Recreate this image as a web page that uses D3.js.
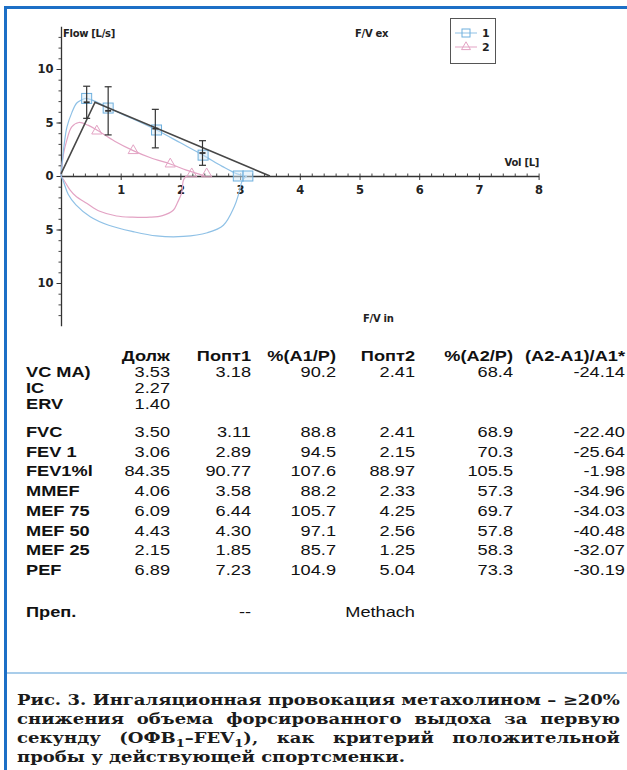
<!DOCTYPE html>
<html>
<head>
<meta charset="utf-8">
<script src="https://cdn.jsdelivr.net/npm/d3@7"></script>
<style>
  html, body { margin: 0; padding: 0; background: #fff; }
  svg { display: block; }
</style>
</head>
<body>
<div id="chart"></div>
<script>
// predicted flow-volume line and predicted values with error bars
const predVol = [0, 0.57, 3.5];
const predFlow = [0.2, 6.9, 0];
const barVol = [0.43, 0.79, 1.58, 2.37];
const barMean = [6.89, 6.09, 4.43, 2.15];
const barHalf = [1.5, 2.25, 1.8, 1.15];

// attempt 1 (blue), expiration and inspiration
const vol1Ex = [0, 0.05, 0.1, 0.18, 0.26, 0.34, 0.42, 0.6, 0.8, 1.2, 1.6, 2.0, 2.38, 2.7, 2.95, 3.11];
const flow1Ex = [0, 2.8, 4.6, 5.9, 6.8, 7.1, 7.25, 6.9, 6.35, 5.35, 4.3, 3.1, 1.95, 0.9, 0.2, 0];
const vol1In = [3.11, 3.04, 2.98, 2.9, 2.72, 2.45, 2.05, 1.6, 1.21, 0.8, 0.49, 0.25, 0.12, 0.04, 0];
const flow1In = [0, -0.4, -1.6, -2.9, -4.6, -5.3, -5.65, -5.6, -5.2, -4.6, -3.8, -2.7, -1.7, -0.5, 0];
const mark1Vol = [0.43, 0.79, 1.6, 2.38, 2.97, 3.13];
const mark1Flow = [7.25, 6.35, 4.3, 1.95, 0, 0];

// attempt 2 (pink)
const vol2Ex = [0, 0.04, 0.1, 0.18, 0.3, 0.45, 0.6, 0.9, 1.21, 1.5, 1.83, 2.1, 2.3, 2.41];
const flow2Ex = [0, 2.0, 3.4, 4.6, 5.0, 4.75, 4.3, 3.25, 2.37, 1.7, 1.12, 0.55, 0.2, 0];
const vol2In = [2.1, 2.05, 2.02, 1.95, 1.88, 1.7, 1.49, 1.2, 0.93, 0.65, 0.43, 0.25, 0.15, 0.05, 0];
const flow2In = [0, -0.4, -1.6, -2.5, -3.2, -3.7, -3.85, -3.85, -3.74, -3.3, -2.55, -1.9, -1.3, -0.4, 0];
const mark2Vol = [0.6, 1.21, 1.83, 2.19, 2.44];
const mark2Flow = [4.2, 2.37, 1.12, 0.2, 0.2];

const xTicks = [1, 2, 3, 4, 5, 6, 7, 8];
const yTicks = [-10, -5, 0, 5, 10];
const legendLabels = ["1", "2"];

// table
const colHeads = ["Долж", "Попт1", "%(A1/P)", "Попт2", "%(A2/P)", "(A2-A1)/A1*"];
const rowLabels = ["VC MA)", "IC", "ERV", "FVC", "FEV 1", "FEV1%l", "MMEF", "MEF 75", "MEF 50", "MEF 25", "PEF"];
const dolzh = ["3.53", "2.27", "1.40", "3.50", "3.06", "84.35", "4.06", "6.09", "4.43", "2.15", "6.89"];
const popt1 = ["3.18", "", "", "3.11", "2.89", "90.77", "3.58", "6.44", "4.30", "1.85", "7.23"];
const pctA1 = ["90.2", "", "", "88.8", "94.5", "107.6", "88.2", "105.7", "97.1", "85.7", "104.9"];
const popt2 = ["2.41", "", "", "2.41", "2.15", "88.97", "2.33", "4.25", "2.56", "1.25", "5.04"];
const pctA2 = ["68.4", "", "", "68.9", "70.3", "105.5", "57.3", "69.7", "57.8", "58.3", "73.3"];
const diffA = ["-24.14", "", "", "-22.40", "-25.64", "-1.98", "-34.96", "-34.03", "-40.48", "-32.07", "-30.19"];
const prepRow = ["Преп.", "--", "Methach"];

const captionLines = [
  "Рис. 3. Ингаляционная провокация метахолином – ≥20%",
  "снижения объема форсированного выдоха за первую",
  "секунду (ОФВ_1–FEV_1), как критерий положительной",
  "пробы у действующей спортсменки."
];

const W = 627, H = 770;
const blue = "#8fc1e6", blueMark = "#6fb0de", pink = "#e3a3c4", dark = "#474747";

const svg = d3.select("#chart").append("svg")
  .attr("width", W).attr("height", H);

// frame
svg.append("rect")
  .attr("x", 5.5).attr("y", 7.5)
  .attr("width", 640).attr("height", 790)
  .attr("fill", "none").attr("stroke", "#1c6fc6").attr("stroke-width", 3);

const x = d3.scaleLinear().domain([0, 8]).range([61, 538.6]);
const y = d3.scaleLinear().domain([-14, 14]).range([325.8, 26.2]);

const g = svg.append("g");
const axisFont = "DejaVu Sans, sans-serif";

// x axis: minor ticks up, major ticks down
g.append("g")
  .attr("transform", `translate(0,${y(0)})`)
  .call(d3.axisTop(x).tickValues(d3.range(0, 8.01, 0.2)).tickSize(2.5).tickSizeOuter(0).tickFormat(""))
  .call(a => a.select(".domain").attr("stroke", "#333").attr("stroke-width", 1.3))
  .call(a => a.selectAll(".tick line").attr("stroke", "#444"));
g.append("g")
  .attr("transform", `translate(0,${y(0)})`)
  .call(d3.axisBottom(x).tickValues(xTicks).tickSize(4).tickSizeOuter(0).tickPadding(6))
  .call(a => a.select(".domain").remove())
  .call(a => a.selectAll(".tick line").attr("stroke", "#333"))
  .call(a => a.selectAll("text").attr("font-family", axisFont).attr("font-weight", "bold")
    .attr("font-size", 11.5).attr("fill", "#222"));

// y axis
g.append("g")
  .attr("transform", `translate(${x(0)},0)`)
  .call(d3.axisLeft(y).tickValues(d3.range(-13, 14, 1)).tickSize(2.5).tickSizeOuter(0).tickFormat(""))
  .call(a => a.select(".domain").attr("stroke", "#333").attr("stroke-width", 1.3))
  .call(a => a.selectAll(".tick line").attr("stroke", "#444"));
g.append("g")
  .attr("transform", `translate(${x(0)},0)`)
  .call(d3.axisLeft(y).tickValues(yTicks).tickSize(4.5).tickSizeOuter(0).tickPadding(3)
    .tickFormat(d => Math.abs(d)))
  .call(a => a.select(".domain").remove())
  .call(a => a.selectAll(".tick line").attr("stroke", "#333"))
  .call(a => a.selectAll("text").attr("font-family", axisFont).attr("font-weight", "bold")
    .attr("font-size", 11.5).attr("fill", "#222"));

// axis titles
const titles = [
  { t: "Flow [L/s]", x: 63, y: 37, a: "start" },
  { t: "F/V ex", x: 355, y: 37, a: "start" },
  { t: "Vol [L]", x: 539, y: 166, a: "end" },
  { t: "F/V in", x: 363, y: 322, a: "start" }
];
g.selectAll("text.title").data(titles).join("text")
  .attr("class", "title")
  .attr("x", d => d.x).attr("y", d => d.y)
  .attr("text-anchor", d => d.a)
  .attr("font-family", axisFont).attr("font-weight", "bold")
  .attr("font-size", 10).attr("letter-spacing", -0.3).attr("fill", "#222")
  .text(d => d.t);

const pts = (vs, fs) => vs.map((v, i) => [v, fs[i]]);
const smooth = d3.line().x(d => x(d[0])).y(d => y(d[1])).curve(d3.curveCatmullRom.alpha(0.5));
const straight = d3.line().x(d => x(d[0])).y(d => y(d[1]));

// curves
[[pts(vol2Ex, flow2Ex), pink], [pts(vol2In, flow2In), pink],
 [pts(vol1Ex, flow1Ex), blue], [pts(vol1In, flow1In), blue]].forEach(([d, c]) => {
  g.append("path").attr("d", smooth(d)).attr("fill", "none")
    .attr("stroke", c).attr("stroke-width", 1.2);
});

// markers
const tri = d3.symbol().type(d3.symbolTriangle).size(45);
g.selectAll("path.m2").data(pts(mark2Vol, mark2Flow)).join("path")
  .attr("class", "m2")
  .attr("d", tri)
  .attr("transform", d => `translate(${x(d[0])},${y(d[1])})`)
  .attr("fill", "none").attr("stroke", pink).attr("stroke-width", 1);
g.selectAll("rect.m1").data(pts(mark1Vol, mark1Flow)).join("rect")
  .attr("class", "m1")
  .attr("x", d => x(d[0]) - 5).attr("y", d => y(d[1]) - 5)
  .attr("width", 10).attr("height", 10)
  .attr("fill", "#d5eaf8").attr("fill-opacity", 0.5)
  .attr("stroke", blueMark).attr("stroke-width", 1);

// predicted line
g.append("path").attr("d", straight(pts(predVol, predFlow)))
  .attr("fill", "none").attr("stroke", dark).attr("stroke-width", 1.6);

// error bars
const bars = barVol.map((v, i) => ({ v, m: barMean[i], h: barHalf[i] }));
const eb = g.selectAll("g.eb").data(bars).join("g").attr("class", "eb")
  .attr("stroke", "#333").attr("stroke-width", 1.2);
eb.append("line")
  .attr("x1", d => x(d.v)).attr("x2", d => x(d.v))
  .attr("y1", d => y(d.m + d.h)).attr("y2", d => y(d.m - d.h));
[1, -1].forEach(s => {
  eb.append("line")
    .attr("x1", d => x(d.v) - 3.5).attr("x2", d => x(d.v) + 3.5)
    .attr("y1", d => y(d.m + s * d.h)).attr("y2", d => y(d.m + s * d.h));
});
eb.append("line")
  .attr("x1", d => x(d.v) - 3).attr("x2", d => x(d.v) + 3)
  .attr("y1", d => y(d.m)).attr("y2", d => y(d.m)).attr("stroke-width", 1.8);

// legend
const lg = svg.append("g").attr("transform", "translate(450,18)");
lg.append("rect").attr("x", 0.5).attr("y", 0.5).attr("width", 45).attr("height", 45)
  .attr("fill", "#fff").attr("stroke", "#555").attr("stroke-width", 1);
legendLabels.forEach((lab, i) => {
  const yy = 15 + i * 14;
  const c = i === 0 ? blue : pink;
  lg.append("line").attr("x1", 5).attr("x2", 27).attr("y1", yy).attr("y2", yy)
    .attr("stroke", c).attr("stroke-width", 1);
  if (i === 0) {
    lg.append("rect").attr("x", 12).attr("y", yy - 4).attr("width", 8).attr("height", 8)
      .attr("fill", "none").attr("stroke", blueMark);
  } else {
    lg.append("path").attr("d", tri.size(35)()).attr("transform", `translate(16,${yy})`)
      .attr("fill", "none").attr("stroke", pink);
  }
  lg.append("text").attr("x", 32).attr("y", yy + 4).text(lab)
    .attr("font-family", axisFont).attr("font-weight", "bold").attr("font-size", 11).attr("fill", "#222");
});

// table
const tFont = "Liberation Sans, Arial, sans-serif";
const sxT = 1.3;
const colRight = [170, 251, 336, 415, 513, 625];
const cols = [dolzh, popt1, pctA1, popt2, pctA2, diffA];
const headY = 361;
const rowY = i => i < 3 ? 377 + i * 16 : 437 + (i - 3) * 19.7;
const tt = svg.append("g").attr("font-family", tFont).attr("font-size", 14).attr("fill", "#111");

function put(txt, xx, yy, anchor, bold) {
  tt.append("text")
    .attr("transform", `translate(${xx},${yy}) scale(${sxT},1)`)
    .attr("text-anchor", anchor)
    .attr("font-weight", bold ? "bold" : "normal")
    .text(txt);
}
colHeads.forEach((h, j) => put(h, colRight[j], headY, "end", true));
rowLabels.forEach((r, i) => {
  put(r, 26, rowY(i), "start", true);
  cols.forEach((c, j) => { if (c[i]) put(c[i], colRight[j], rowY(i), "end", false); });
});
const prepY = 617;
put(prepRow[0], 26, prepY, "start", true);
put(prepRow[1], colRight[1], prepY, "end", false);
put(prepRow[2], colRight[3], prepY, "end", false);

// caption separator
svg.append("line").attr("x1", 7).attr("x2", W).attr("y1", 673).attr("y2", 673)
  .attr("stroke", "#a9cdea").attr("stroke-width", 2);

// caption (justified)
const cFont = "DejaVu Serif, serif";
const cg = svg.append("g").attr("font-family", cFont).attr("font-weight", "bold")
  .attr("font-size", 14.5).attr("fill", "#1b1b1b");
function wordText(parent, word) {
  const t = parent.append("text");
  let lift = 0;
  word.split(/(_1)/).forEach(seg => {
    if (!seg) return;
    if (seg === "_1") {
      t.append("tspan").attr("font-size", 10.5).attr("dy", 4).text("1");
      lift = -4;
    } else {
      const s = t.append("tspan").text(seg);
      if (lift) { s.attr("dy", lift); lift = 0; }
    }
  });
  return t;
}
const probe = wordText(cg, captionLines[3]);
const sxC = 388 / probe.node().getComputedTextLength();
probe.remove();
const spaceW = (() => { const t = cg.append("text").text("a a"); const w1 = t.node().getComputedTextLength();
  t.text("aa"); const w2 = t.node().getComputedTextLength(); t.remove(); return (w1 - w2) * sxC; })();
const capX0 = 17, capX1 = 620;
captionLines.forEach((line, li) => {
  const yy = 705 + li * 19;
  const words = line.split(" ");
  const nodes = words.map(w => wordText(cg, w));
  const widths = nodes.map(n => n.node().getComputedTextLength() * sxC);
  const total = d3.sum(widths);
  const gap = li < captionLines.length - 1 ? (capX1 - capX0 - total) / (words.length - 1) : spaceW;
  let cx = capX0;
  nodes.forEach((n, k) => {
    n.attr("transform", `translate(${cx},${yy}) scale(${sxC},1)`);
    cx += widths[k] + gap;
  });
});
</script>
</body>
</html>
